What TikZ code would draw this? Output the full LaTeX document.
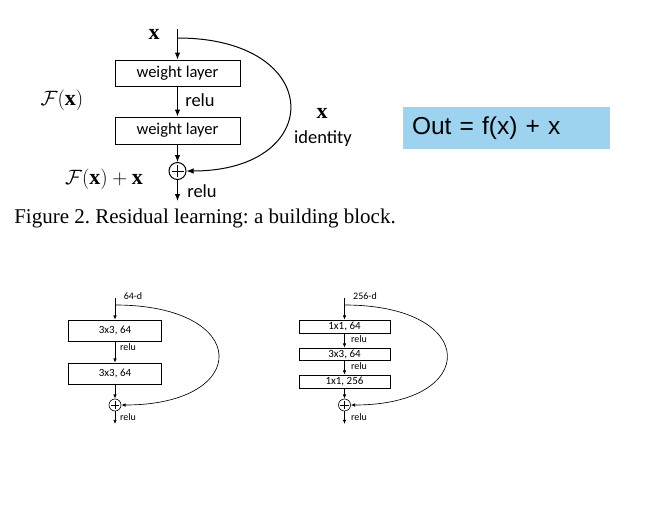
\documentclass[tikz,border=0pt]{standalone}
\usepackage{fontspec}
\setmainfont{Liberation Serif}
\newfontfamily\carl{Carlito}
\newfontfamily\arialf{Liberation Sans}
\usetikzlibrary{arrows.meta,calc}
\definecolor{outblue}{HTML}{9DD3EE}
\tikzset{
  bigarr/.style={line width=1pt,-{Latex[length=7pt,width=5.5pt]}},
  smallarr/.style={line width=0.65pt,-{Latex[length=4.2pt,width=3.4pt]}},
  bigbox/.style={draw,line width=1pt,minimum width=125pt,inner sep=0pt,font=\carl\fontsize{16.5}{18}\selectfont},
  smallbox/.style={draw,line width=0.65pt,minimum width=93pt,inner sep=0pt,font=\carl\fontsize{11}{12}\selectfont},
  biglbl/.style={inner sep=0pt,font=\carl\fontsize{18.5}{20}\selectfont},
  mathlbl/.style={inner sep=0pt,font=\fontsize{22}{24}\selectfont},
  smalllbl/.style={inner sep=0pt,font=\carl\fontsize{10}{11}\selectfont},
  bigsum/.style={draw,circle,line width=1pt,minimum size=17pt,inner sep=0pt},
  smallsum/.style={draw,circle,line width=0.65pt,minimum size=12pt,inner sep=0pt},
}
\begin{document}
\frenchspacing
\begin{tikzpicture}[x=1pt,y=-1pt]
\useasboundingbox (0,0) rectangle (665,531);
% ---------- top block ----------
\node[bigbox,minimum height=26pt] (w1) at (177.5,73) {weight layer};
\node[bigbox,minimum height=27pt] (w2) at (177.5,130.5) {weight layer};
\node[bigsum] (plus) at (177.5,171) {};
\draw[line width=1pt] ($(plus.north)+(0,3)$) -- ($(plus.south)+(0,-3)$);
\draw[line width=1pt] ($(plus.west)+(3,0)$) -- ($(plus.east)+(-3,0)$);
\coordinate (xin) at (177.5,29);
\coordinate (xsplit) at (177.5,38);
\coordinate (xout) at (177.5,201);
\draw[bigarr] (xin) -- (w1);
\draw[bigarr] (w1) -- (w2);
\draw[bigarr] (w2) -- (plus);
\draw[bigarr] (plus) -- (xout);
\draw[bigarr] (xsplit) .. controls (326,38) and (326,171) .. (plus.east);
\node[mathlbl] (xlab) at (154,34) {$\mathbf{x}$};
\node[biglbl] (relu1) at (200,100) {relu};
\node[biglbl] (relu2) at (202,191) {relu};
\node[mathlbl] (fx) at (62,100) {$\mathcal{F}(\mathbf{x})$};
\node[mathlbl] (fxx) at (104,179) {$\mathcal{F}(\mathbf{x})+\mathbf{x}$};
\node[mathlbl] (xid) at (322,113) {$\mathbf{x}$};
\node[biglbl] (ident) at (323,139) {identity};
\node[inner sep=0pt,font=\fontsize{21}{23}\selectfont] (cap) at (205,218) {Figure 2. Residual learning: a building block.};
% ---------- formula ----------
\node[fill=outblue,minimum width=207pt,minimum height=42pt,text width=189pt,inner xsep=9pt,inner ysep=0pt,align=left,font=\arialf\fontsize{24.5}{26}\selectfont] (out) at (506.5,128) {Out = f(x) + x};
% ---------- lower left block ----------
\node[smallbox,minimum height=21pt] (a1) at (115,330.5) {3x3, 64};
\node[smallbox,minimum height=21pt] (a2) at (115,373.5) {3x3, 64};
\node[smallsum] (aplus) at (115,405) {};
\draw[line width=0.65pt] ($(aplus.north)+(0,2)$) -- ($(aplus.south)+(0,-2)$);
\draw[line width=0.65pt] ($(aplus.west)+(2,0)$) -- ($(aplus.east)+(-2,0)$);
\coordinate (ain) at (115,298);
\coordinate (asplit) at (115,305);
\coordinate (aout) at (115,424);
\draw[smallarr] (ain) -- (a1);
\draw[smallarr] (a1) -- (a2);
\draw[smallarr] (a2) -- (aplus);
\draw[smallarr] (aplus) -- (aout);
\draw[smallarr] (asplit) .. controls (252,305) and (252,405) .. (aplus.east);
\node[smalllbl] (a64) at (133,296) {64-d};
\node[smalllbl] (arelu1) at (128,347) {relu};
\node[smalllbl] (arelu2) at (128,417) {relu};
% ---------- lower right block ----------
\node[smallbox,minimum width=91pt,minimum height=13pt] (b1) at (344.5,326.5) {1x1, 64};
\node[smallbox,minimum width=91pt,minimum height=12pt] (b2) at (344.5,354) {3x3, 64};
\node[smallbox,minimum width=91pt,minimum height=13pt] (b3) at (344.5,381.5) {1x1, 256};
\node[smallsum] (bplus) at (344.5,405) {};
\draw[line width=0.65pt] ($(bplus.north)+(0,2)$) -- ($(bplus.south)+(0,-2)$);
\draw[line width=0.65pt] ($(bplus.west)+(2,0)$) -- ($(bplus.east)+(-2,0)$);
\coordinate (bin) at (344.5,298);
\coordinate (bsplit) at (344.5,305);
\coordinate (bout) at (344.5,424);
\draw[smallarr] (bin) -- (b1);
\draw[smallarr] (b1) -- (b2);
\draw[smallarr] (b2) -- (b3);
\draw[smallarr] (b3) -- (bplus);
\draw[smallarr] (bplus) -- (bout);
\draw[smallarr] (bsplit) .. controls (480,305) and (480,405) .. (bplus.east);
\node[smalllbl] (b256) at (365,296) {256-d};
\node[smalllbl] (brelu1) at (359,339.5) {relu};
\node[smalllbl] (brelu2) at (359,366.5) {relu};
\node[smalllbl] (brelu3) at (359,417) {relu};
\end{tikzpicture}
\end{document}
